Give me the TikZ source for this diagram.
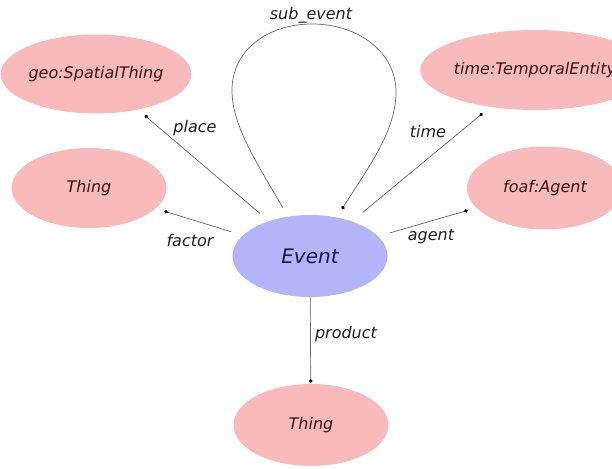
\documentclass[tikz,border=0pt]{standalone}
\usepackage{fontspec}
\setmainfont{DejaVu Sans}
\usetikzlibrary{arrows.meta,calc,shapes.geometric}
\definecolor{pinkfill}{RGB}{248,186,186}
\definecolor{bluefill}{RGB}{180,180,248}
\definecolor{edgecol}{RGB}{100,100,100}
\definecolor{pinktext}{RGB}{60,18,18}
\definecolor{bluetext}{RGB}{22,22,75}
\definecolor{labeltext}{RGB}{30,30,30}
\begin{document}
\begin{tikzpicture}[x=1pt,y=-1pt,
  cls/.style={ellipse, fill=pinkfill, inner sep=0pt, text=pinktext,
    font=\fontsize{16}{19}\selectfont\itshape},
  evstyle/.style={ellipse, fill=bluefill, inner sep=0pt, text=bluetext,
    font=\fontsize{20}{24}\selectfont\itshape},
  dottip/.style={-{Circle[length=3.6pt, color=black]}},
  rel/.style={draw=edgecol, line width=0.7pt, dottip,
    shorten <=12pt, shorten >=9pt},
  lbl/.style={inner sep=0pt, text=labeltext, font=\fontsize{16}{19}\selectfont\itshape}]
\useasboundingbox (0,0) rectangle (612,468);

\node[evstyle, minimum width=155pt, minimum height=82pt] (event) at (310,256) {Event};
\node[cls, minimum width=172pt, minimum height=79pt] (geo) at (96,74) {geo:SpatialThing};
\node[cls, minimum width=155pt, minimum height=80pt] (thingl) at (89,188) {Thing};
\node[cls, minimum width=170pt, minimum height=80pt] (time) at (535,70) {time:TemporalEntity};
\node[cls, minimum width=156pt, minimum height=83pt] (agent) at (545,188) {foaf:Agent};
\node[cls, minimum width=155pt, minimum height=82pt] (thingb) at (311,425) {Thing};

\draw[rel] (event) -- (geo);
\draw[rel] (event) -- (thingl);
\draw[rel, shorten <=14pt, shorten >=10pt] (event) -- (time);
\draw[rel] (event) -- (agent);
\draw[rel, shorten <=0pt, shorten >=1pt] (event) -- (thingb);

\coordinate (ls) at ($(event)+(-27,-48)$);
\coordinate (le) at ($(event)+(32,-47)$);
\draw[draw=edgecol, line width=0.7pt, dottip]
  (ls) .. controls (255,160) and (232,125) .. (232,90)
       .. controls (232,50) and (268,24) .. (312,24)
       .. controls (358,24) and (396,52) .. (396,92)
       .. controls (396,130) and (370,165) .. (le);

\node[lbl] (lsub) at (311,15) {sub\_event};
\node[lbl] (lplace) at (195,128) {place};
\node[lbl] (ltime) at (428,132) {time};
\node[lbl] (lfactor) at (190,241) {factor};
\node[lbl] (lagent) at (431,237) {agent};
\node[lbl] (lproduct) at (346,334) {product};
\end{tikzpicture}
\end{document}
